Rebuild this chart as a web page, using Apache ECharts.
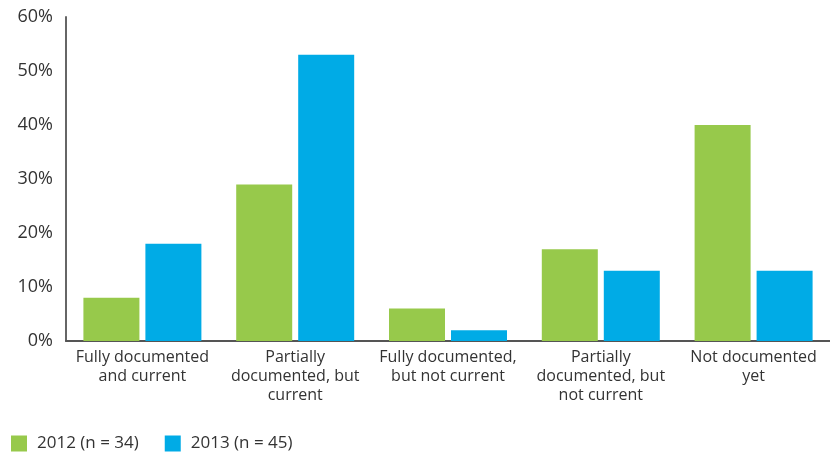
<!DOCTYPE html>
<html><head><meta charset="utf-8">
<script src="https://cdn.jsdelivr.net/npm/echarts@6/dist/echarts.min.js"></script>
<style>html,body{margin:0;padding:0;background:#fff}#c{width:830px;height:452px}</style>
</head><body><div id="c"></div>
<script>
var categories = ["Fully documented\nand current", "Partially\ndocumented, but\ncurrent", "Fully documented,\nbut not current", "Partially\ndocumented, but\nnot current", "Not documented\nyet"];
var series2012 = [8, 29, 6, 17, 40];
var series2013 = [18, 53, 2, 13, 13];
var seriesNames = ["2012 (n = 34)", "2013 (n = 45)"];
var yTicks = [0, 10, 20, 30, 40, 50, 60];

var FONT = "'Open Sans', sans-serif";
var chart = echarts.init(document.getElementById('c'));
chart.setOption({
  animation: false,
  textStyle: { fontFamily: FONT },
  grid: { left: 66, top: 17, width: 768, height: 324, containLabel: false },
  legend: {
    left: 11, top: 435, padding: 0, itemWidth: 16, itemHeight: 16, itemGap: 26,
    icon: 'rect',
    textStyle: { fontFamily: FONT, fontSize: 17, color: '#333', padding: [0, 0, 0, 5] },
    data: seriesNames
  },
  xAxis: {
    type: 'category', data: categories,
    axisLine: { lineStyle: { color: '#555', width: 2 } },
    axisTick: { show: false },
    axisLabel: { interval: 0, fontFamily: FONT, fontSize: 16, color: '#333', lineHeight: 19, margin: 7 }
  },
  yAxis: {
    type: 'value', min: yTicks[0], max: yTicks[yTicks.length - 1], interval: 10,
    axisLine: { show: true, lineStyle: { color: '#666', width: 2 } },
    axisTick: { show: false },
    splitLine: { show: false },
    axisLabel: { fontFamily: FONT, fontSize: 18, color: '#333', margin: 13, formatter: '{value}%', padding: [4, 0, 0, 0] }
  },
  series: [
    { name: seriesNames[0], type: 'bar', data: series2012, barWidth: 56, barGap: '10.7%', itemStyle: { color: '#97C94B' } },
    { name: seriesNames[1], type: 'bar', data: series2013, barWidth: 56, itemStyle: { color: '#00ABE6' } }
  ]
});
</script></body></html>
